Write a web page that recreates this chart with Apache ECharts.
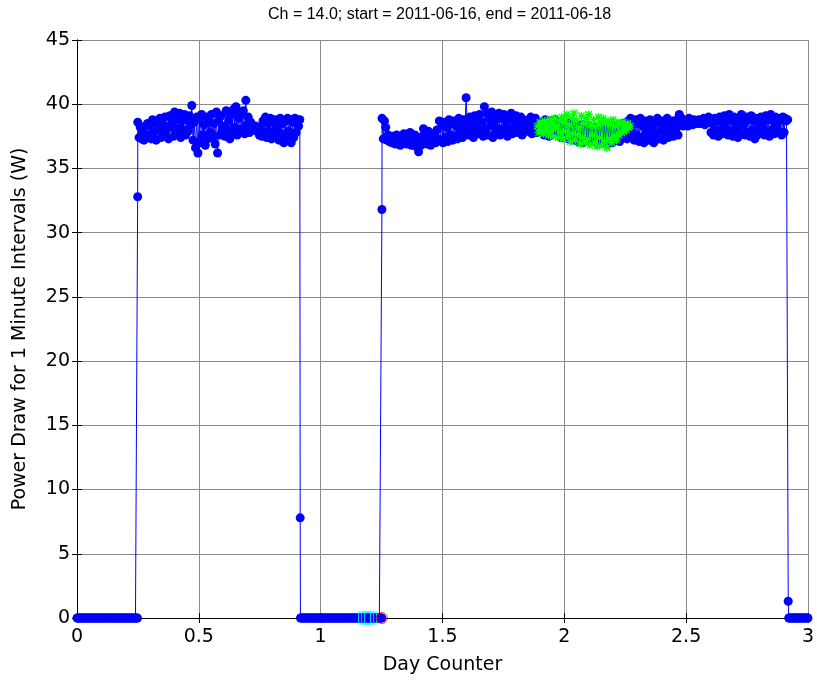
<!DOCTYPE html>
<html>
<head>
<meta charset="utf-8">
<script src="https://cdn.jsdelivr.net/npm/echarts@6/dist/echarts.min.js"></script>
<style>
  html, body { margin: 0; padding: 0; background: #ffffff; }
  #chart { width: 817px; height: 684px; }
</style>
</head>
<body>
<div id="chart"></div>
<script>
// 标题与坐标轴文字
const titleText = 'Ch = 14.0; start = 2011-06-16, end = 2011-06-18';
const xName = 'Day Counter';
const yName = 'Power Draw for 1 Minute Intervals (W)';

// 坐标轴范围（天 / 瓦）
const xTicks = [0, 0.5, 1, 1.5, 2, 2.5, 3];
const yTicks = [0, 5, 10, 15, 20, 25, 30, 35, 40, 45];

// 关机段（功率为 0），[起始天, 结束天]
const offRuns = [[0, 0.248], [0.917, 1.251], [2.921, 3.0]];
const offValue = 0;
const offStep = 0.004;

// 开机/关机瞬间的过渡点 [天, 瓦]
const riseA = [0.249, 32.8];
const dropA = [0.916, 7.8];
const riseB = [1.2515, 31.8];
const dropB = [2.919, 1.3];

// 第一段运行区间 0.2495 ~ 0.9145 天
const bandAStart = 0.2495;
const bandAEnd = 0.9145;
const bandA = [
  38.6, 37.4, 38.2, 37.3, 37.9, 37.2, 38.3, 37.5, 38.5, 37.6,
  38.4, 37.3, 38.8, 37.8, 38.6, 37.2, 38.7, 38.0, 38.9, 37.4,
  38.5, 37.6, 39.0, 37.9, 38.3, 37.3, 39.1, 38.2, 38.6, 37.5,
  39.4, 37.8, 38.9, 38.1, 39.3, 37.4, 38.7, 38.0, 39.2, 37.6,
  38.8, 37.9, 39.1, 38.4, 39.9, 37.2, 38.6, 36.6, 39.0, 36.2,
  38.9, 37.0, 39.2, 37.6, 38.4, 36.8, 39.0, 37.3, 38.7, 37.8,
  39.2, 37.4, 38.5, 36.9, 39.4, 36.2, 38.8, 37.6, 39.1, 37.9,
  38.3, 37.5, 39.5, 38.0, 38.7, 37.3, 39.2, 37.8, 39.6, 38.2,
  39.8, 37.6, 38.9, 37.9, 39.3, 38.1, 39.5, 37.7, 40.3, 38.4,
  39.0, 37.8, 38.6, 38.2, 38.2, 38.2, 38.3, 37.9, 38.2, 37.6,
  38.2, 37.5, 38.7, 37.8, 39.0, 37.4, 38.5, 37.9, 38.9, 37.3,
  38.6, 37.6, 38.8, 38.0, 38.3, 37.2, 38.9, 37.7, 38.5, 37.0,
  38.7, 37.5, 38.9, 37.9, 38.8, 37.0, 38.6, 37.4, 38.9, 37.8,
  38.8, 38.3, 38.8
];

// 第二段运行区间 1.252 ~ 2.917 天
const bandBStart = 1.252;
const bandBEnd = 2.917;
const bandB = [
  38.9, 37.3, 38.7, 38.2, 37.2, 37.6, 37.1, 37.4, 37.0, 37.5,
  37.2, 36.9, 37.6, 37.1, 37.3, 36.8, 37.5, 37.0, 37.7, 37.2,
  36.9, 37.4, 37.1, 37.8, 36.8, 37.3, 37.0, 37.6, 36.7, 37.2,
  36.3, 37.1, 36.8, 37.5, 38.1, 37.0, 37.4, 36.9, 37.9, 37.2,
  36.8, 37.5, 37.1, 37.7, 37.0, 38.0, 37.3, 38.7, 37.2, 38.4,
  37.0, 38.6, 37.4, 38.2, 37.1, 38.8, 37.6, 38.5, 37.2, 38.7,
  37.5, 38.3, 37.3, 38.9, 37.8, 38.6, 37.4, 38.8, 38.0, 40.5,
  38.4, 37.6, 39.0, 37.9, 38.7, 37.4, 39.1, 38.2, 38.8, 37.7,
  39.2, 37.9, 38.6, 37.5, 39.8, 38.0, 39.3, 37.6, 38.9, 38.3,
  39.4, 37.4, 38.7, 37.8, 39.1, 38.1, 39.3, 37.6, 38.9, 37.9,
  39.2, 38.2, 38.7, 37.5, 39.0, 38.0, 39.3, 37.7, 38.8, 38.3,
  39.1, 37.8, 38.6, 38.1, 39.0, 37.6, 38.8, 38.2, 38.5, 37.9,
  38.7, 38.0, 39.0, 37.7, 38.6, 38.2, 38.9, 37.8, 38.4, 38.0,
  38.6, 37.9, 38.3, 37.6, 38.8, 38.1, 38.4, 37.5, 38.7, 37.8,
  38.5, 37.9, 38.8, 37.7, 38.3, 38.0, 38.6, 37.4, 38.5, 37.8,
  38.4, 37.6, 38.2, 37.3, 38.6, 37.8, 38.1, 37.2, 38.5, 37.5,
  38.3, 37.1, 38.0, 37.6, 38.4, 37.0, 38.2, 37.4, 38.1, 37.1,
  38.3, 37.4, 37.9, 37.1, 38.2, 37.3, 37.8, 36.9, 38.0, 37.2,
  37.7, 37.0, 38.2, 37.3, 37.9, 36.9, 38.1, 37.2, 37.8, 37.0,
  38.3, 37.2, 37.8, 37.5, 38.4, 37.1, 38.0, 37.4, 38.5, 37.6,
  38.2, 37.3, 38.7, 37.5, 38.9, 37.8, 38.4, 37.2, 38.8, 37.6,
  38.5, 37.1, 38.9, 37.4, 38.3, 37.0, 38.7, 37.8, 38.4, 37.2,
  38.8, 37.5, 38.2, 37.0, 38.6, 37.7, 38.9, 37.3, 38.5, 37.9,
  38.7, 37.2, 38.3, 37.6, 38.9, 37.4, 38.5, 37.9, 38.7, 37.5,
  38.4, 38.0, 38.8, 37.6, 39.2, 38.5, 38.9, 38.3, 38.7, 38.4,
  38.6, 38.3, 38.9, 38.5, 38.7, 38.4, 38.8, 38.6, 38.7, 38.5,
  38.8, 38.5, 38.7, 38.6, 38.9, 38.4, 38.7, 38.8, 39.0, 38.6,
  37.8, 38.5, 37.6, 38.9, 37.9, 38.7, 37.5, 39.0, 38.0, 38.6,
  37.7, 39.1, 38.2, 38.8, 37.6, 39.2, 37.9, 38.7, 37.5, 39.0,
  38.1, 38.6, 37.4, 38.9, 37.7, 39.2, 38.3, 38.5, 37.6, 39.0,
  37.8, 38.8, 37.5, 39.1, 38.0, 38.7, 37.3, 38.9, 37.6, 38.5,
  37.9, 39.0, 38.2, 38.6, 37.6, 39.1, 37.8, 38.8, 37.5, 39.2,
  38.0, 38.7, 37.7, 39.0, 38.2, 38.6, 37.8, 38.9, 37.6, 39.0,
  37.8, 38.9, 38.7, 38.8
];

// 绿色标记（1.89 ~ 2.27 天）
const greenStart = 1.89;
const greenEnd = 2.27;
const greenVals = [
  38.3, 37.8, 38.6, 37.9, 38.5, 37.7, 38.7, 38.0, 38.4, 37.6,
  38.8, 37.9, 38.5, 37.5, 38.9, 38.1, 38.3, 37.4, 38.7, 37.8,
  39.0, 37.3, 38.6, 37.9, 39.2, 37.5, 38.4, 37.1, 38.9, 37.7,
  39.3, 37.2, 38.7, 37.6, 38.2, 36.9, 39.1, 37.4, 38.5, 37.0,
  38.9, 37.3, 39.2, 36.8, 38.4, 37.6, 38.8, 37.0, 38.3, 36.7,
  39.0, 37.4, 38.6, 36.8, 38.9, 37.1, 38.5, 36.6, 38.7, 37.3,
  38.4, 37.0, 38.8, 37.5, 38.3, 37.2, 38.6, 37.6, 38.5, 37.8,
  38.6, 37.9, 38.4, 38.0, 38.5, 38.2, 38.3
];

// 青色方框与红色圆圈标记
const cyanDays = [1.18, 1.193, 1.205];
const cyanVals = [0, 0, 0];
const redDays = [1.251];
const redVals = [0];

// 把等间隔的读数变成 [天, 值]
function spread(start, end, vals) {
  const n = vals.length;
  return vals.map((v, i) => [start + (end - start) * i / (n - 1), v]);
}

function offRun(run) {
  const pts = [];
  for (let d = run[0]; d < run[1] - 1e-9; d += offStep) pts.push([d, offValue]);
  pts.push([run[1], offValue]);
  return pts;
}

const mainData = [].concat(
  offRun(offRuns[0]), [riseA],
  spread(bandAStart, bandAEnd, bandA), [dropA],
  offRun(offRuns[1]), [riseB],
  spread(bandBStart, bandBEnd, bandB), [dropB],
  offRun(offRuns[2])
);
const greenData = spread(greenStart, greenEnd, greenVals);
const cyanData = cyanDays.map((d, i) => [d, cyanVals[i]]);
const redData = redDays.map((d, i) => [d, redVals[i]]);

const TITLE_FONT = "'Liberation Sans', Arial, sans-serif";
const FONT = "'DejaVu Sans', 'Liberation Sans', sans-serif";
const starPath = 'path://M4.2,0H5.8V10H4.2Z M0,4.2H10V5.8H0Z M1.6,0.4L9.6,8.4L8.4,9.6L0.4,1.6Z M8.4,0.4L9.6,1.6L1.6,9.6L0.4,8.4Z';

function initChart() {
  const myChart = echarts.init(document.getElementById('chart'), null, { renderer: 'canvas' });

  const frameAxis = {
    axisLine: { show: true, lineStyle: { color: '#000', width: 1 } },
    axisTick: { show: true, inside: true, length: 5, lineStyle: { color: '#000' } },
    splitLine: { show: false },
    axisLabel: { show: false }
  };

  const option = {
    animation: false,
    backgroundColor: '#ffffff',
    title: {
      text: titleText,
      left: 268,
      top: 7,
      padding: 0,
      textStyle: { fontFamily: TITLE_FONT, fontSize: 16, fontWeight: 'normal', color: '#000' }
    },
    grid: { left: 77, right: 9, top: 40, bottom: 66 },
    xAxis: [
      {
        type: 'value', min: xTicks[0], max: xTicks[xTicks.length - 1], interval: 0.5,
        position: 'bottom',
        name: xName, nameLocation: 'middle', nameGap: 38,
        nameTextStyle: { fontFamily: FONT, fontSize: 19, color: '#000' },
        axisLine: { show: true, onZero: false, lineStyle: { color: '#000', width: 1 } },
        axisTick: { show: true, inside: true, length: 5, lineStyle: { color: '#000' } },
        axisLabel: { fontFamily: FONT, fontSize: 19, color: '#000', margin: 10 },
        splitLine: { show: true, lineStyle: { color: '#8a8a8a', width: 1 } }
      },
      Object.assign({ type: 'value', min: 0, max: 3, interval: 0.5, position: 'top' }, frameAxis)
    ],
    yAxis: [
      {
        type: 'value', min: yTicks[0], max: yTicks[yTicks.length - 1], interval: 5,
        position: 'left',
        name: yName, nameLocation: 'middle', nameGap: 47, nameRotate: 90,
        nameTextStyle: { fontFamily: FONT, fontSize: 19, color: '#000' },
        axisLine: { show: true, onZero: false, lineStyle: { color: '#000', width: 1 } },
        axisTick: { show: true, inside: true, length: 5, lineStyle: { color: '#000' } },
        axisLabel: { fontFamily: FONT, fontSize: 19, color: '#000', margin: 7 },
        splitLine: { show: true, lineStyle: { color: '#8a8a8a', width: 1 } }
      },
      Object.assign({ type: 'value', min: 0, max: 45, interval: 5, position: 'right' }, frameAxis)
    ],
    series: [
      {
        name: 'power',
        type: 'line',
        data: mainData,
        symbol: 'circle',
        symbolSize: 9,
        showSymbol: true,
        clip: false,
        lineStyle: { color: '#0000ff', width: 1 },
        itemStyle: { color: '#0000ff' },
        z: 2
      },
      {
        name: 'green',
        type: 'line',
        data: greenData,
        symbol: starPath,
        symbolSize: 8,
        lineStyle: { color: '#00ff00', width: 1 },
        itemStyle: { color: '#00ff00' },
        z: 3
      },
      {
        name: 'cyan',
        type: 'scatter',
        data: cyanData,
        symbol: 'rect',
        symbolSize: 12,
        itemStyle: { color: 'rgba(0,0,0,0)', borderColor: '#00ffff', borderWidth: 1 },
        z: 4
      },
      {
        name: 'red',
        type: 'scatter',
        data: redData,
        symbol: 'circle',
        symbolSize: 11,
        itemStyle: { color: 'rgba(0,0,0,0)', borderColor: '#ff0000', borderWidth: 1 },
        z: 5
      }
    ]
  };

  myChart.setOption(option);
  window.addEventListener('resize', () => myChart.resize());
}

window.onload = initChart;
</script>
</body>
</html>
